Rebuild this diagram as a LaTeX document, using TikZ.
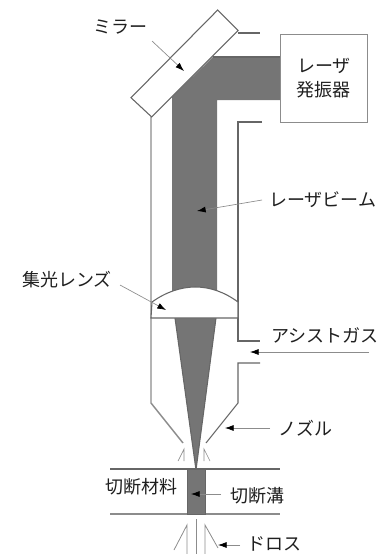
\documentclass[tikz,border=0pt]{standalone}
\usepackage{fontspec}
\setmainfont{Noto Sans CJK JP}
\usetikzlibrary{arrows.meta}
\definecolor{beam}{HTML}{757575}
\definecolor{wall}{HTML}{8C8C8C}
\definecolor{thin}{HTML}{666666}
\tikzset{
 wallline/.style={draw=wall,line width=1.1pt},
 darkline/.style={draw=thin,line width=0.8pt},
 leader/.style={draw=black!45,line width=0.5pt,-{Latex[length=6.5pt,width=4.5pt,black]}},
 lab/.style={inner sep=0pt,font=\fontsize{13.5pt}{18pt}\selectfont,text=black!88},
}
\begin{document}
\begin{tikzpicture}[x=0.75pt,y=-0.75pt]
\useasboundingbox (0,0) rectangle (381,554);
% beam
\fill[beam] (213,57) -- (280,57) -- (280,100) -- (217,100) -- (217,292) -- (172,292) -- (172,97) -- cycle;
\draw[darkline] (213,57) -- (280,57);
\fill[beam] (175,318) -- (216,318) -- (196,470) -- cycle;
\draw[darkline] (175,318) -- (196,470) -- (216,318);
% walls
\draw[wallline] (151,117) -- (151,403) -- (183,443);
\draw[darkline] (262,122) -- (238,122) -- (238,303);
\draw[darkline] (238,303) -- (238,341) -- (260,341);
\draw[darkline] (260,363) -- (238,363) -- (238,403) -- (206,443);
\draw[darkline] (238,33) -- (260,33);
% mirror
\coordinate (m1) at (217.7,10);
\coordinate (m2) at (238,30.5);
\coordinate (m3) at (151.7,117);
\coordinate (m4) at (131,97.7);
\draw[darkline,fill=white] (m1) -- (m2) -- (m3) -- (m4) -- cycle;
% box
\node[draw=wall,line width=0.9pt,fill=white,minimum width=65pt,minimum height=66pt,inner sep=0pt,anchor=north west,align=center,lab] (osc) at (280,34) {レーザ\\発振器};
% lens
\draw[darkline,fill=white] (152,302) .. controls (180,282) and (211,282) .. (238,302) -- (238,318) -- (151,318) -- cycle;
% workpiece
\draw[darkline] (110,469) -- (280,469);
\draw[wallline,line width=1.4pt] (110,514) -- (280,514);
\node[draw=thin,line width=0.8pt,fill=beam,minimum width=13.5pt,minimum height=33.75pt,inner sep=0pt,anchor=north west] (kerf) at (187,469) {};
% nozzle jets
\draw[wallline,line width=0.5pt] (178,461) -- (184,449) -- (184,461);
\draw[wallline,line width=0.5pt] (204,461) -- (204,449) -- (210,461);
% dross
\draw[wallline,line width=0.6pt] (196,519) -- (196,554);
\draw[wallline,line width=0.6pt] (187,554) -- (187,525) -- (174,550);
\draw[wallline,line width=0.6pt] (205,554) -- (205,525) -- (218,548);
% labels
\node[lab,anchor=east] (lmirror) at (148,27) {ミラー};
\node[lab,anchor=west] (lbeam) at (269,200) {レーザビーム};
\node[lab,anchor=west] (llens) at (22,280) {集光レンズ};
\node[lab,anchor=west] (lgas) at (271,335) {アシストガス};
\node[lab,anchor=west] (lnoz) at (278,428) {ノズル};
\node[lab,anchor=west] (lmat) at (105,487) {切断材料};
\node[lab,anchor=west] (lkerf) at (230,496) {切断溝};
\node[lab,anchor=west] (ldross) at (247,544) {ドロス};
% leaders
\coordinate (t1) at (184,71); \coordinate (s1) at (152,41);
\coordinate (t2) at (197,211); \coordinate (s2) at (262,200);
\coordinate (t3) at (166,310); \coordinate (s3) at (120,285);
\coordinate (t4) at (250,352); \coordinate (s4) at (369,352);
\coordinate (t5) at (225,428); \coordinate (s5) at (270,428);
\coordinate (t6) at (191,494); \coordinate (s6) at (221,494);
\coordinate (t7) at (218,545); \coordinate (s7) at (240,545);
\draw[leader] (s1) -- (t1);
\draw[leader] (s2) -- (t2);
\draw[leader] (s3) -- (t3);
\draw[leader] (s4) -- (t4);
\draw[leader] (s5) -- (t5);
\draw[leader] (s6) -- (t6);
\draw[leader] (s7) -- (t7);
\end{tikzpicture}
\end{document}
